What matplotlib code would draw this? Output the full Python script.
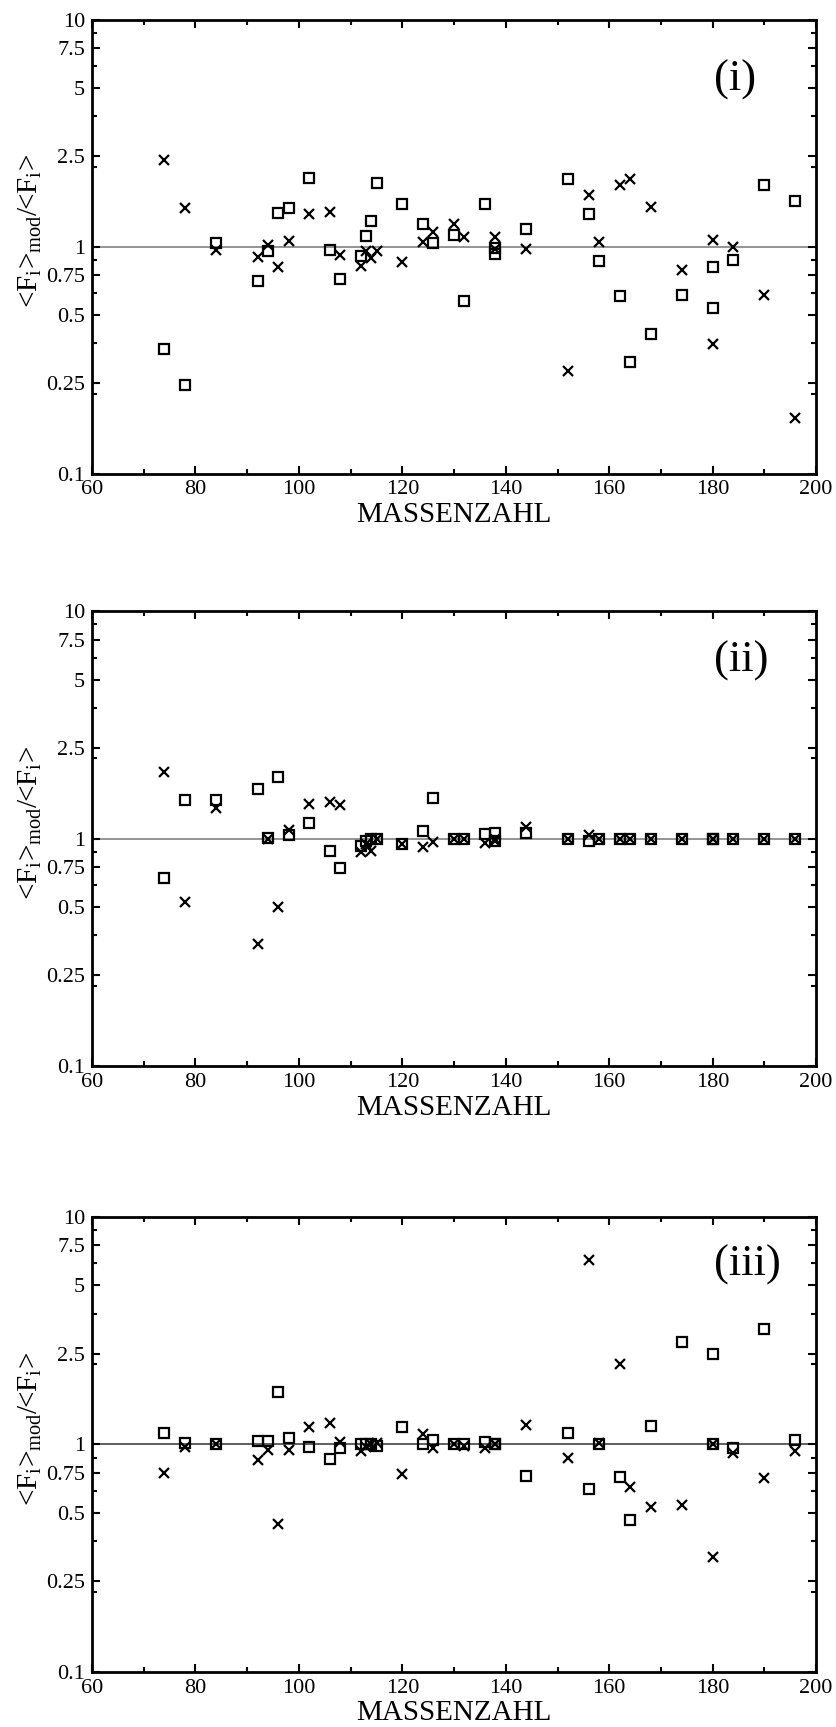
import numpy as np
import matplotlib
matplotlib.use("Agg")
import matplotlib.pyplot as plt
from matplotlib.ticker import FixedLocator, NullFormatter

plt.rcParams['font.family'] = ['Liberation Serif', 'DejaVu Serif']
plt.rcParams['mathtext.default'] = 'regular'

# Mass numbers of the p-nuclei (138 and 180 occur twice: Ce/La and W/Ta)
mass = [74, 78, 84, 92, 94, 96, 98, 102, 106, 108, 112, 113, 114, 115, 120,
        124, 126, 130, 132, 136, 138, 138, 144, 152, 156, 158, 162, 164, 168,
        174, 180, 180, 184, 190, 196]

# Panel (i)
sq_i = [0.355, 0.245, 1.037, 0.703, 0.954, 1.41, 1.475, 2.01, 0.964, 0.721,
        0.913, 1.115, 1.30, 1.90, 1.546,
        1.257, 1.037, 1.123, 0.574, 1.536, 0.982, 0.930, 1.19, 1.98, 1.387,
        0.865, 0.606, 0.309, 0.41, 0.612, 0.813, 0.537, 0.871, 1.87, 1.592]
cr_i = [2.41, 1.475, 0.971, 0.904, 1.015, 0.81, 1.064, 1.397, 1.42, 0.923,
        0.819, 0.96, 0.89, 0.954, 0.858,
        1.045, 1.157, 1.253, 1.107, np.nan, 1.099, 0.98, 0.975, 0.283, 1.69,
        1.048, 1.875, 1.995, 1.502, 0.787, 1.068, 0.371, 1.0, 0.612, 0.175]

# Panel (ii)
sq_ii = [0.669, 1.479, 1.479, 1.644, 1.01, 1.874, 1.035, 1.167, 0.885, 0.741,
         0.928, 0.98, 1.0, 1.0, 0.945,
         1.074, 1.506, 1.0, 1.0, 1.043, 1.06, 0.98, 1.054, 1.0, 0.98,
         1.0, 1.0, 1.0, 1.0, 1.0, 1.0, 1.0, 1.0, 1.0, 1.0]
cr_ii = [1.957, 0.528, 1.36, 0.345, 1.0, 0.50, 1.093, 1.426, 1.452, 1.40,
         0.873, 0.945, 0.885, 1.0, 0.945,
         0.918, 0.962, 1.0, 1.0, 0.955, 0.98, 1.0, 1.126, 1.0, 1.035,
         1.0, 1.0, 1.0, 1.0, 1.0, 1.0, 1.0, 1.0, 1.0, 1.0]

# Panel (iii)
sq_iii = [1.125, 1.015, 1.0, 1.034, 1.034, 1.704, 1.072, 0.971, 0.86, 0.96,
          1.0, 1.0, 1.0, 0.98, 1.197,
          1.0, 1.045, 1.0, 1.0, 1.026, 1.0, 1.0, 0.729, 1.125, 0.634,
          1.0, 0.718, 0.464, 1.206, 2.82, 2.49, 1.0, 0.96, 3.23, 1.045]
cr_iii = [0.748, 0.971, 1.0, 0.854, 0.943, 0.447, 0.943, 1.189, 1.238, 1.022,
          0.932, 0.978, 1.0, 1.015, 0.742,
          1.113, 0.96, 1.0, 0.985, 0.96, 1.0, 1.0, 1.211, 0.87, 6.48,
          1.015, 2.263, 0.648, 0.533, 0.543, 1.0, 0.321, 0.919, 0.715, 0.932]

panels = [("(i)", sq_i, cr_i, '#777777', 0.868),
          ("(ii)", sq_ii, cr_ii, '#777777', 0.890),
          ("(iii)", sq_iii, cr_iii, '#333333', 0.895)]

y_major = [0.1, 0.25, 0.5, 0.75, 1, 2.5, 5, 7.5, 10]
y_major_labels = ['0.1', '0.25', '0.5', '0.75', '1', '2.5', '5', '7.5', '10']
y_minor = [0.225, 0.375, 0.625, 0.875, 2.25, 3.75, 6.25, 8.75]
x_major = [60, 80, 100, 120, 140, 160, 180, 200]
x_minor = [70, 90, 110, 130, 150, 170, 190]

fig = plt.figure(figsize=(8.37, 17.27), dpi=100)
rects = [(0.110, 0.7258, 0.865, 0.2628),
         (0.110, 0.3828, 0.865, 0.2633),
         (0.110, 0.0320, 0.865, 0.2633)]

for rect, (tag, sq, cr, lc, tag_y) in zip(rects, panels):
    ax = fig.add_axes(rect)
    ax.set_yscale('log')
    ax.set_xlim(60, 200)
    ax.set_ylim(0.1, 10)
    ax.axhline(1.0, color=lc, lw=1.1, zorder=1)
    ax.plot(mass, sq, linestyle='none', marker='s', ms=7.5, mfc='none',
            mec='black', mew=1.6, zorder=3)
    ax.plot(mass, cr, linestyle='none', marker='x', ms=7, color='black',
            mew=1.6, zorder=3)

    ax.yaxis.set_major_locator(FixedLocator(y_major))
    ax.set_yticklabels(y_major_labels)
    ax.yaxis.set_minor_locator(FixedLocator(y_minor))
    ax.yaxis.set_minor_formatter(NullFormatter())
    ax.xaxis.set_major_locator(FixedLocator(x_major))
    ax.xaxis.set_minor_locator(FixedLocator(x_minor))

    ax.tick_params(which='both', direction='in', top=True, right=True,
                   width=1.5, labelsize=16)
    ax.tick_params(which='major', length=6)
    ax.tick_params(which='minor', length=3.8)
    ax.tick_params(axis='y', pad=5)
    ax.tick_params(axis='x', pad=5)
    for sp in ax.spines.values():
        sp.set_linewidth(2.0)

    ax.set_xlabel('MASSENZAHL', fontsize=21, labelpad=2)
    ax.set_ylabel('<F$_{i}$>$_{mod}$/<F$_{i}$>', fontsize=21)
    ax.yaxis.set_label_coords(-0.067, 0.535)
    ax.text(0.859, tag_y, tag, transform=ax.transAxes, fontsize=32,
            ha='left', va='center')

fig.savefig('out.png', dpi=100)
